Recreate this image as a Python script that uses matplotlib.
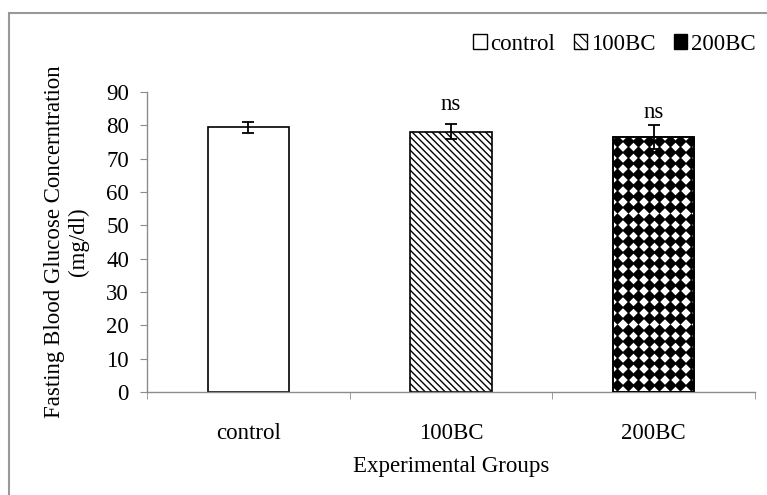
import numpy as np
import matplotlib.pyplot as plt
from matplotlib.patches import Rectangle, Patch

plt.rcParams['font.family'] = ['Liberation Serif', 'DejaVu Serif']

# datos
groups = ["control", "100BC", "200BC"]
means = [79.4, 78.1, 76.4]
errors = [1.7, 2.3, 3.6]
signif = ["", "ns", "ns"]
signif_y = [0, 86.1, 84.0]

gray = "#8c8c8c"
fs = 16.5

fig = plt.figure(figsize=(7.67, 4.95), dpi=100)
ax = fig.add_axes([147 / 767, 1 - 392 / 495, (755 - 147) / 767, 300 / 495])

x = np.arange(len(groups))
w = 0.40

# barras
ax.bar(x[0], means[0], w, color="white", edgecolor="black", linewidth=1.2, zorder=2)
ax.bar(x[1], means[1], w, color="white", edgecolor="black", linewidth=1.2,
       hatch="\\\\\\\\\\", zorder=2)
plt.rcParams['hatch.linewidth'] = 0.8
b3 = ax.bar(x[2], means[2], w, color="white", edgecolor="black", linewidth=1.2, zorder=2)

# patron de rombos para 200BC
rect = b3[0]
nx, dx = 8, w / 7.7
ny_step = 90 / 300 * 11.1
cols = rect.get_x() + 0.02 + dx * np.arange(nx)
rows = np.arange(2.1, means[2] + 3, ny_step)
cx, cy = np.meshgrid(cols, rows)
sc = ax.scatter(cx.ravel(), cy.ravel(), marker="D", s=40, color="black",
                linewidths=0, zorder=3)
sc.set_clip_path(rect)
ax.bar(x[2], means[2], w, color="none", edgecolor="black", linewidth=1.2, zorder=4)

# barras de error
ax.errorbar(x, means, yerr=errors, fmt="none", ecolor="black", elinewidth=1.3,
            capsize=4, capthick=1.3, zorder=5)

for xi, yi, s in zip(x, signif_y, signif):
    if s:
        ax.text(xi, yi, s, ha="center", va="center", fontsize=fs)

ax.set_xlim(-0.5, 2.5)
ax.set_ylim(0, 90)
ax.set_yticks(np.arange(0, 91, 10))
ax.set_xticks(x)
ax.set_xticklabels(groups, fontsize=fs)
ax.set_xticks([-0.5, 0.5, 1.5, 2.5], minor=True)
ax.tick_params(axis="x", which="major", length=0, pad=22)
ax.tick_params(axis="x", which="minor", length=5, color=gray, direction="out")
ax.tick_params(axis="y", labelsize=fs, length=5, color=gray, pad=8)

for sp in ["top", "right"]:
    ax.spines[sp].set_visible(False)
for sp in ["left", "bottom"]:
    ax.spines[sp].set_color(gray)
    ax.spines[sp].set_linewidth(1.0)

ax.set_xlabel("Experimental Groups", fontsize=fs, labelpad=9)
ax.set_ylabel("Fasting Blood Glucose Concerntration\n(mg/dl)", fontsize=fs,
              labelpad=12, linespacing=1.2)

# leyenda
handles = [
    Patch(facecolor="white", edgecolor="black", label="control"),
    Patch(facecolor="white", edgecolor="black", hatch="\\\\\\", label="100BC"),
    Patch(facecolor="black", edgecolor="black", label="200BC"),
]
fig.legend(handles=handles, loc="center right", bbox_to_anchor=(1.0, 1 - 44 / 495),
           ncol=3, frameon=False, fontsize=fs, handlelength=0.6, handleheight=0.6,
           handletextpad=0.15, columnspacing=0.8, borderaxespad=0.1)

# marco exterior
fig.patches.append(Rectangle((8.5 / 767, -0.1), 1.2, 1.1 - 12.5 / 495,
                             transform=fig.transFigure, fill=False,
                             edgecolor="#999999", linewidth=1.5))

plt.savefig("out.png", dpi=100)
